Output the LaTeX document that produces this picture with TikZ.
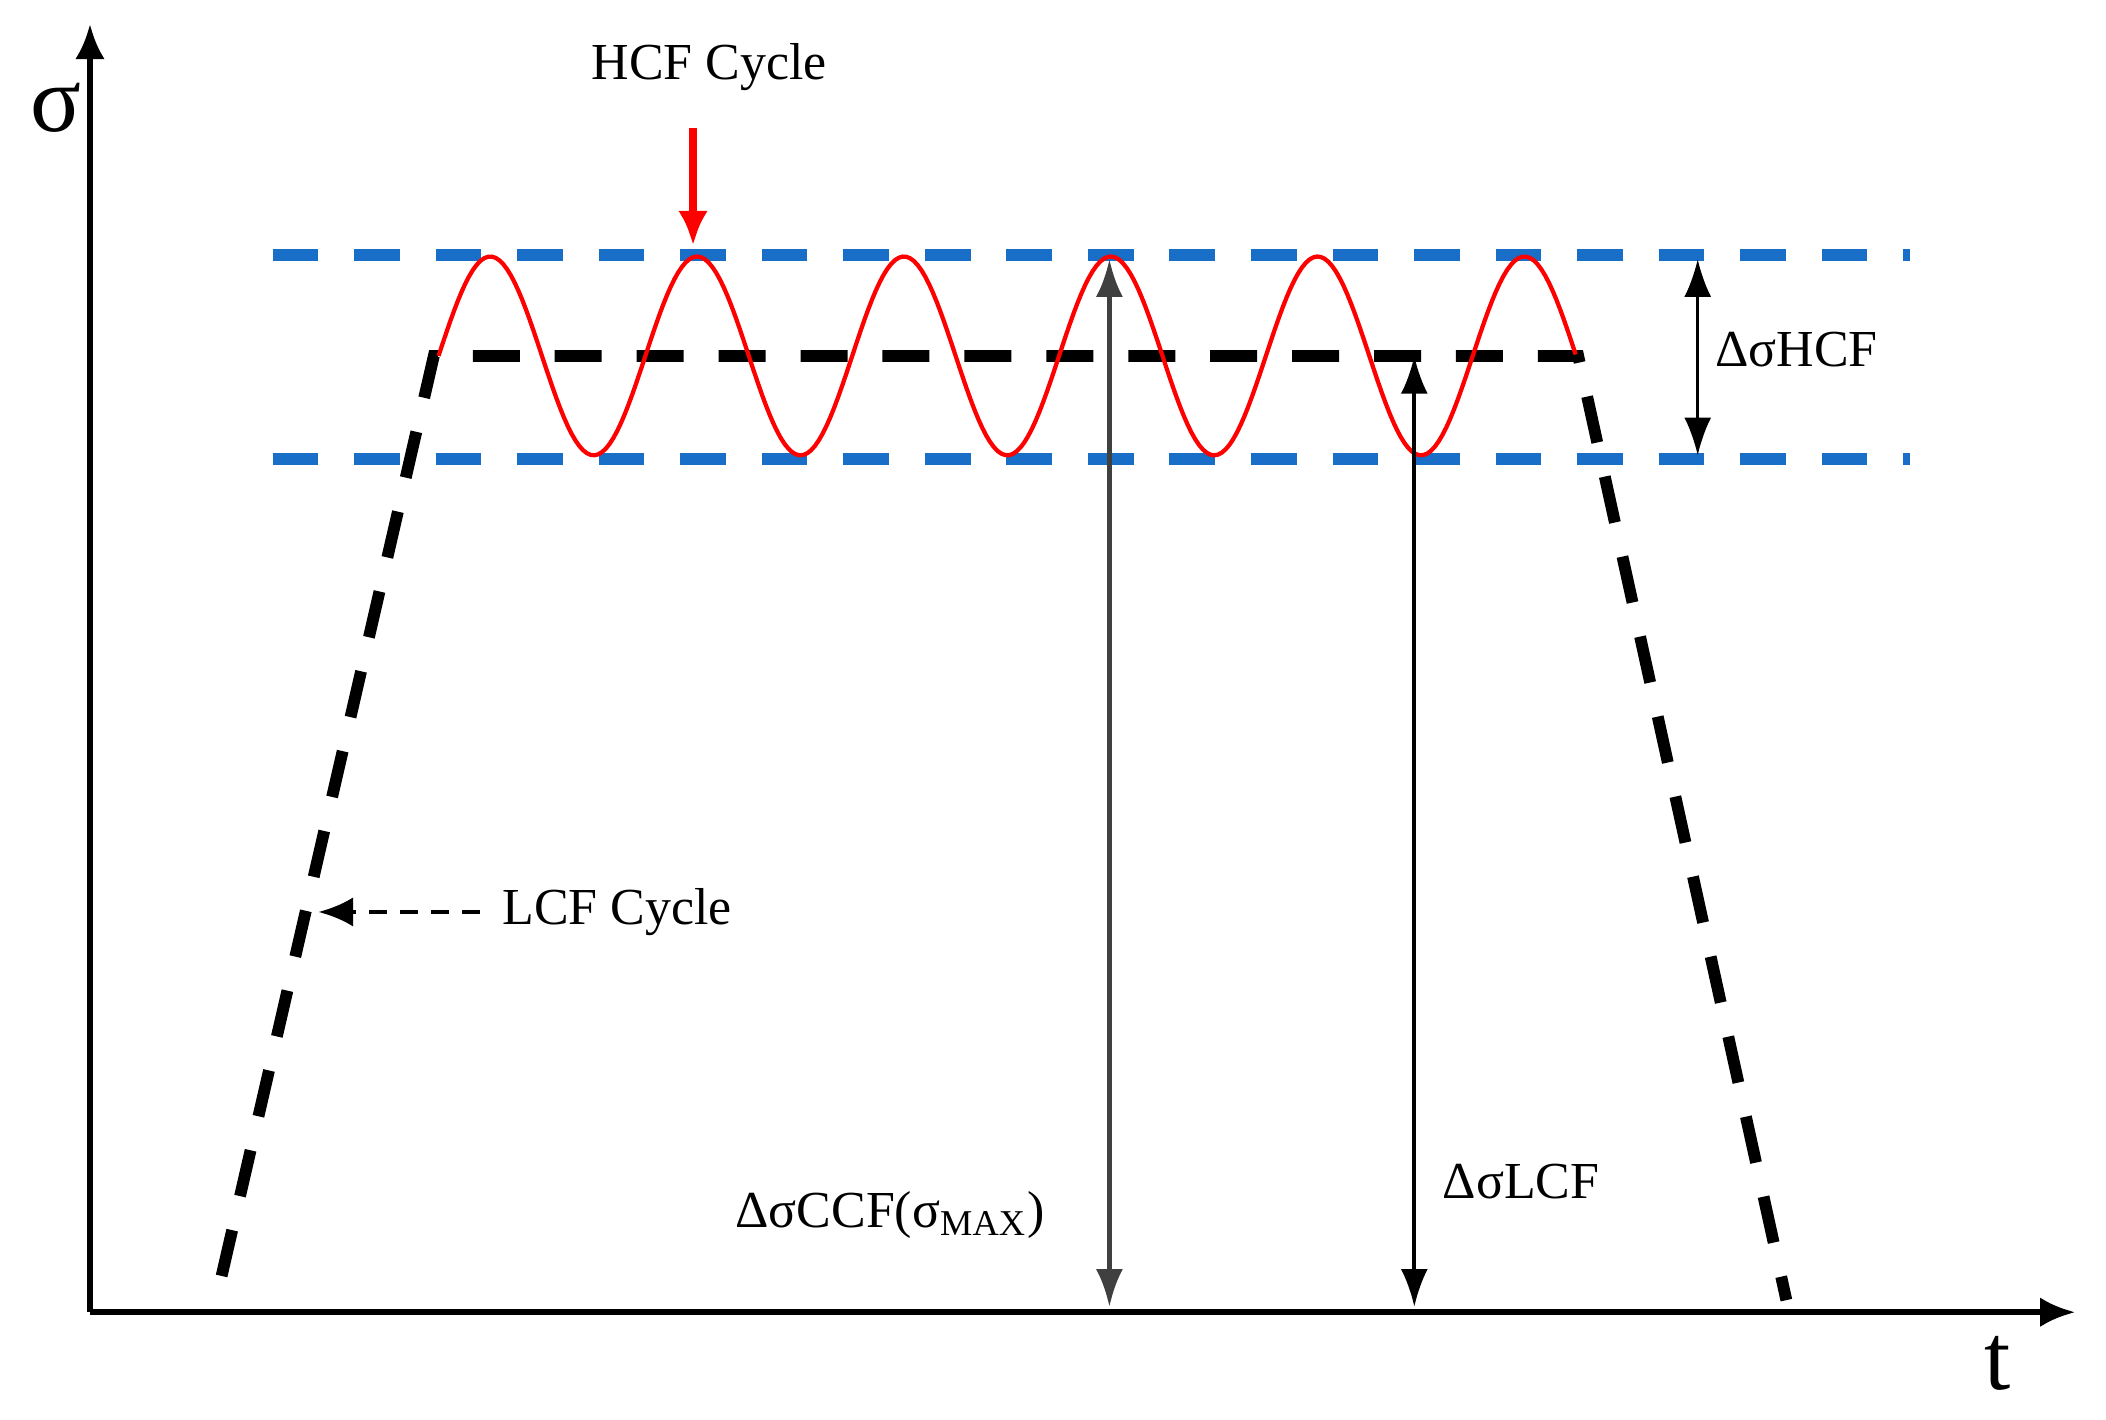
\documentclass[tikz,border=0pt]{standalone}
\usepackage{fontspec}
\setmainfont{Liberation Serif}
\usetikzlibrary{arrows.meta}

\definecolor{bandblue}{RGB}{25,110,200}
\definecolor{ccfgray}{RGB}{64,64,64}

\tikzset{
  axisline/.style={line width=1.2pt, -{Latex[length=0.26cm, width=0.22cm]}},
  bandline/.style={bandblue, line width=2.5pt, dash pattern=on 0.34cm off 0.267cm},
  lcfpath/.style={black, line width=2.5pt, dash pattern=on 0.35cm off 0.26cm},
  hcfwave/.style={red, line width=0.9pt},
  gaparrow/.style={line width=0.8pt, {Latex[length=0.28cm, width=0.2cm]}-{Latex[length=0.28cm, width=0.2cm]}},
  lbl/.style={font=\fontsize{11}{13}\selectfont, inner sep=1pt}
}

\begin{document}
\begin{tikzpicture}
      \useasboundingbox (0,0) rectangle (15.68,10.57);

      % axes
      \coordinate (O) at (0.67, 0.80);
      \coordinate (ytip) at (0.67, 10.39);
      \coordinate (xtip) at (15.45, 0.80);
      \draw[axisline] (O) -- (ytip);
      \draw[axisline] (O) -- (xtip);
      \node[font=\fontsize{20}{22}\selectfont] (sig) at (0.42, 9.77) {σ};
      \node[font=\fontsize{20}{22}\selectfont] (tlab) at (14.87, 0.42) {t};

      % HCF band
      \coordinate (bandTL) at (2.03, 8.67);
      \coordinate (bandTR) at (14.22, 8.67);
      \coordinate (bandBL) at (2.03, 7.15);
      \coordinate (bandBR) at (14.22, 7.15);
      \draw[bandline] (bandTL) -- (bandTR);
      \draw[bandline] (bandBL) -- (bandBR);

      % LCF cycle
      \coordinate (lcf0) at (1.65, 1.07);
      \coordinate (lcf1) at (3.23, 7.92);
      \coordinate (lcf2) at (11.75, 7.92);
      \coordinate (lcf3) at (13.30, 0.89);
      \draw[lcfpath] (lcf0) -- (lcf1) -- (lcf2) -- (lcf3);

      % HCF wave
      \draw[hcfwave] plot[domain=0:5.5, samples=300]
            ({3.265+1.54*\x}, {7.92+0.74*sin(360*\x)});

      % HCF cycle label
      \node[lbl] (hcf) at (5.28, 10.07) {HCF Cycle};
      \coordinate (hcfA) at (5.16, 9.62);
      \coordinate (hcfB) at (5.16, 8.74);
      \draw[red, line width=1.7pt, -{Latex[length=0.26cm, width=0.22cm]}] (hcfA) -- (hcfB);

      % LCF cycle label
      \node[lbl, anchor=west] (lcf) at (3.70, 3.78) {LCF Cycle};
      \coordinate (lcfA) at (3.57, 3.78);
      \coordinate (lcfB) at (2.37, 3.78);
      \draw[line width=1pt, dash pattern=on 0.13cm off 0.10cm,
            -{Latex[length=0.26cm, width=0.22cm]}] (lcfA) -- (lcfB);

      % ranges
      \coordinate (hrA) at (12.64, 8.64);
      \coordinate (hrB) at (12.64, 7.18);
      \draw[gaparrow, line width=0.6pt] (hrA) -- (hrB);
      \node[lbl, anchor=west] (dhcf) at (12.73, 7.97) {ΔσHCF};

      \coordinate (crA) at (8.26, 8.64);
      \coordinate (crB) at (8.26, 0.84);
      \draw[gaparrow, ccfgray, line width=1pt] (crA) -- (crB);
      \node[lbl, anchor=east] (dccf) at (7.82, 1.52) {ΔσCCF(σ\textsubscript{MAX})};

      \coordinate (lrA) at (10.53, 7.92);
      \coordinate (lrB) at (10.53, 0.84);
      \draw[gaparrow] (lrA) -- (lrB);
      \node[lbl, anchor=west] (dlcf) at (10.70, 1.77) {ΔσLCF};
\end{tikzpicture}
\end{document}
